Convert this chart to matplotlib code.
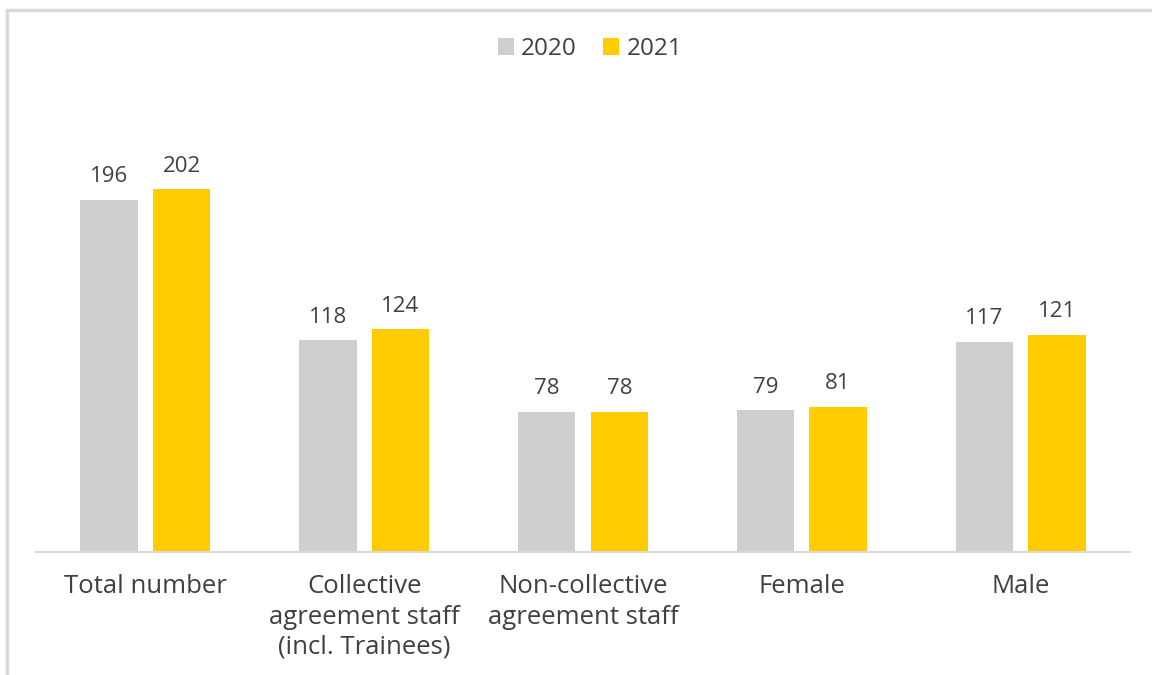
import matplotlib.pyplot as plt
import numpy as np
from matplotlib.patches import Rectangle

categories = ['Total number', 'Collective\nagreement staff\n(incl. Trainees)',
              'Non-collective\nagreement staff', 'Female', 'Male']
values_2020 = [196, 118, 78, 79, 117]
values_2021 = [202, 124, 78, 81, 121]
series_names = ['2020', '2021']

plt.rcParams['font.family'] = ['Open Sans', 'DejaVu Sans']
text_color = '#404040'
color_2020 = '#D0CECE'
color_2021 = '#FFCC00'

W, H = 1152, 675
fig = plt.figure(figsize=(W / 100, H / 100), dpi=100)

# light frame around the chart area (cropped at right and bottom)
fig.patches.append(Rectangle((7 / W, -0.1), 1.2, (H - 10) / H + 0.1,
                             transform=fig.transFigure, fill=False,
                             edgecolor='#D9D9D9', linewidth=2.5))

ymax = 250
ax = fig.add_axes([36 / W, (H - 552) / H, (1130 - 36) / W, (ymax * 1.796) / H])

x = np.arange(len(categories))
width = 0.263
offset = (width + 0.069) / 2
b1 = ax.bar(x - offset, values_2020, width, color=color_2020, label=series_names[0])
b2 = ax.bar(x + offset, values_2021, width, color=color_2021, label=series_names[1])

for bars in (b1, b2):
    ax.bar_label(bars, padding=9, fontsize=16, color=text_color)

ax.set_xlim(-0.5, len(categories) - 0.5)
ax.set_ylim(0, ymax)
ax.set_xticks(x)
ax.set_xticklabels(categories, fontsize=18.5, color=text_color, linespacing=1.28)
ax.tick_params(axis='x', length=0, pad=16)
ax.set_yticks([])
for side in ('top', 'right', 'left'):
    ax.spines[side].set_visible(False)
ax.spines['bottom'].set_color('#D9D9D9')
ax.spines['bottom'].set_linewidth(1.5)

fig.legend(handles=[b1, b2], labels=series_names, loc='center',
           bbox_to_anchor=(590 / W, (H - 49) / H), ncol=2, frameon=False,
           fontsize=17.5, labelcolor=text_color, handlelength=0.65, handleheight=0.65,
           handletextpad=0.3, columnspacing=1.1)

fig.savefig('out.png', dpi=100)
